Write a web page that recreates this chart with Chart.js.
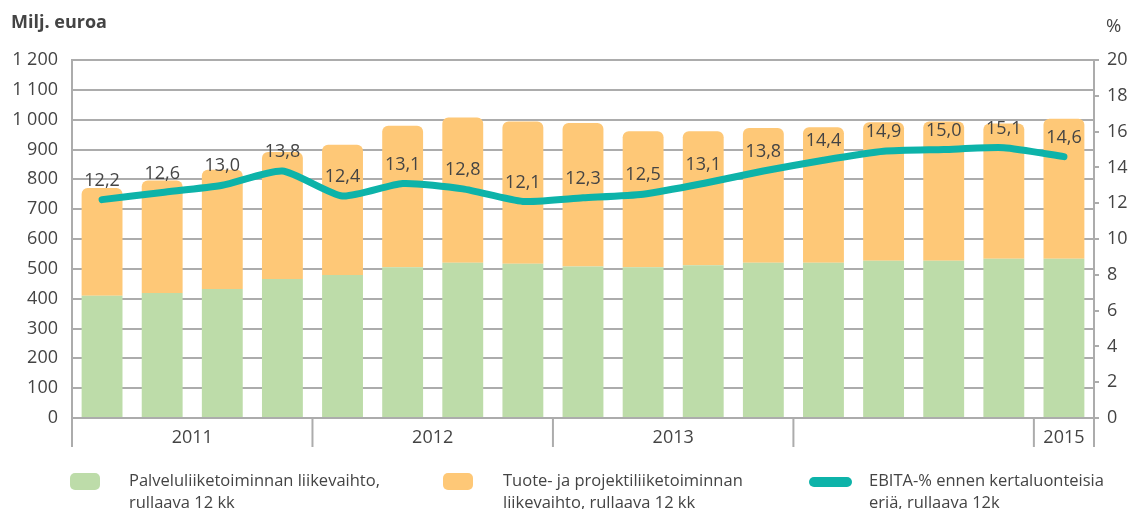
<!DOCTYPE html>
<html>
<head>
<meta charset="utf-8">
<script src="https://cdn.jsdelivr.net/npm/chart.js@4.4.1/dist/chart.umd.min.js"></script>
<style>
  html, body { margin: 0; padding: 0; background: #fff; }
  body { width: 1130px; height: 509px; position: relative; overflow: hidden; font-family: "Open Sans", sans-serif; color: #444; }
  #wrap { position: absolute; left: 0; top: 0; width: 1130px; height: 509px; }
  .title { position: absolute; left: 11px; top: 9px; font-size: 18px; font-weight: 700; color: #444; }
  .pct { position: absolute; left: 1106px; top: 12px; font-size: 18.5px; color: #444; }
  .leg { position: absolute; top: 469px; font-size: 16.5px; line-height: 22px; color: #444; }
  .box { position: absolute; border-radius: 5px; }
</style>
</head>
<body>
<div id="wrap"><canvas id="c" width="1130" height="509"></canvas></div>
<div class="title">Milj. euroa</div>
<div class="pct">%</div>
<div class="box" style="left:70px;top:473px;width:30px;height:17px;background:#bddca9;"></div>
<div class="leg" style="left:129px;">Palveluliiketoiminnan liikevaihto,<br>rullaava 12 kk</div>
<div class="box" style="left:443px;top:473px;width:30px;height:17px;background:#fec877;"></div>
<div class="leg" style="left:503px;">Tuote- ja projektiliiketoiminnan<br>liikevaihto, rullaava 12 kk</div>
<div class="box" style="left:809px;top:477px;width:43px;height:10px;background:#0db3a9;"></div>
<div class="leg" style="left:869px;">EBITA-% ennen kertaluonteisia<br>eriä, rullaava 12k</div>
<script>
// Categories: rolling quarters Q1/2011 .. Q1/2015
const quarters = ['Q1/2011','Q2/2011','Q3/2011','Q4/2011','Q1/2012','Q2/2012','Q3/2012','Q4/2012',
                  'Q1/2013','Q2/2013','Q3/2013','Q4/2013','Q1/2014','Q2/2014','Q3/2014','Q4/2014','Q1/2015'];
// Year groups on the x axis
const yearLabels = ['2011','2012','2013','','2015'];
const yearCounts = [4, 4, 4, 4, 1];
// Service business revenue, MEUR
const serviceRevenue = [410, 419, 432, 466, 479, 505, 520, 517, 508, 505, 512, 520, 520, 527, 527, 534, 534];
// Product & project business revenue, MEUR
const productRevenue = [361, 377, 400, 426, 437, 475, 487, 477, 481, 456, 449, 452, 455, 464, 467, 453, 469];
// EBITA-% before one-off items
const ebitaPct = [12.2, 12.6, 13.0, 13.8, 12.4, 13.1, 12.8, 12.1, 12.3, 12.5, 13.1, 13.8, 14.4, 14.9, 15.0, 15.1, 14.6];
// Tick labels
const leftTickLabels = ['0','100','200','300','400','500','600','700','800','900','1 000','1 100','1 200'];
const rightTickLabels = ['0','2','4','6','8','10','12','14','16','18','20'];

const gridColor = '#acacac';
const textColor = '#444444';
const tickFont = { family: 'Open Sans', size: 18 };

const labelPlugin = {
  id: 'pointLabels',
  afterDatasetsDraw(chart) {
    const ctx = chart.ctx;
    const meta = chart.getDatasetMeta(2);
    ctx.save();
    ctx.font = '18px "Open Sans"';
    ctx.fillStyle = textColor;
    ctx.textAlign = 'center';
    ctx.textBaseline = 'middle';
    meta.data.forEach((pt, i) => {
      const txt = ebitaPct[i].toFixed(1).replace('.', ',');
      ctx.fillText(txt, pt.x, pt.y - 19);
    });
    ctx.restore();
  }
};

const yearAxisPlugin = {
  id: 'yearAxis',
  afterDraw(chart) {
    const ctx = chart.ctx;
    const xs = chart.scales.x;
    const step = xs.getPixelForValue(1) - xs.getPixelForValue(0);
    const top = chart.chartArea.bottom;
    ctx.save();
    ctx.strokeStyle = gridColor;
    ctx.lineWidth = 2;
    ctx.font = '18px "Open Sans"';
    ctx.fillStyle = textColor;
    ctx.textAlign = 'center';
    ctx.textBaseline = 'middle';
    let idx = 0;
    const drawSep = (x) => { ctx.beginPath(); ctx.moveTo(x, top); ctx.lineTo(x, top + 29); ctx.stroke(); };
    drawSep(xs.getPixelForValue(0) - step / 2);
    yearLabels.forEach((lab, g) => {
      const start = xs.getPixelForValue(idx) - step / 2;
      idx += yearCounts[g];
      const end = xs.getPixelForValue(idx - 1) + step / 2;
      drawSep(end);
      if (lab) ctx.fillText(lab, (start + end) / 2, top + 20);
    });
    ctx.restore();
  }
};

new Chart(document.getElementById('c'), {
  data: {
    labels: quarters,
    datasets: [
      { type: 'bar', label: 'Palveluliiketoiminnan liikevaihto, rullaava 12 kk', data: serviceRevenue,
        backgroundColor: '#bddca9', stack: 's', yAxisID: 'y', order: 2,
        barPercentage: 0.68, categoryPercentage: 1.0, borderRadius: 0 },
      { type: 'bar', label: 'Tuote- ja projektiliiketoiminnan liikevaihto, rullaava 12 kk', data: productRevenue,
        backgroundColor: '#fec877', stack: 's', yAxisID: 'y', order: 2,
        barPercentage: 0.68, categoryPercentage: 1.0,
        borderRadius: { topLeft: 6, topRight: 6, bottomLeft: 0, bottomRight: 0 }, borderSkipped: false },
      { type: 'line', label: 'EBITA-% ennen kertaluonteisia eriä, rullaava 12k', data: ebitaPct,
        borderColor: '#0db3a9', backgroundColor: '#0db3a9', borderWidth: 7, pointRadius: 0,
        borderCapStyle: 'round', borderJoinStyle: 'round', tension: 0.2, yAxisID: 'y1', order: 0 }
    ]
  },
  options: {
    responsive: false,
    animation: false,
    layout: { padding: { top: 60, left: 0, right: 0, bottom: 0 } },
    plugins: { legend: { display: false }, tooltip: { enabled: false } },
    scales: {
      x: {
        stacked: true,
        ticks: { display: false },
        grid: { display: false },
        border: { display: false },
        afterFit(s) { s.height = 91; }
      },
      y: {
        position: 'left', stacked: true, min: 0, max: 1200,
        ticks: { stepSize: 100, color: textColor, font: tickFont, padding: 14,
                 callback: (v, i) => leftTickLabels[i] },
        grid: { color: gridColor, lineWidth: 2, drawTicks: false },
        border: { color: gridColor, width: 2 },
        afterFit(s) { s.width = 72; }
      },
      y1: {
        position: 'right', min: 0, max: 20,
        ticks: { stepSize: 2, color: textColor, font: tickFont, padding: 8,
                 callback: (v, i) => rightTickLabels[i] },
        grid: { drawOnChartArea: false, drawTicks: true, tickLength: 5, color: gridColor, lineWidth: 2 },
        border: { color: gridColor, width: 2 },
        afterFit(s) { s.width = 36; }
      }
    }
  },
  plugins: [labelPlugin, yearAxisPlugin]
});
</script>
</body>
</html>
